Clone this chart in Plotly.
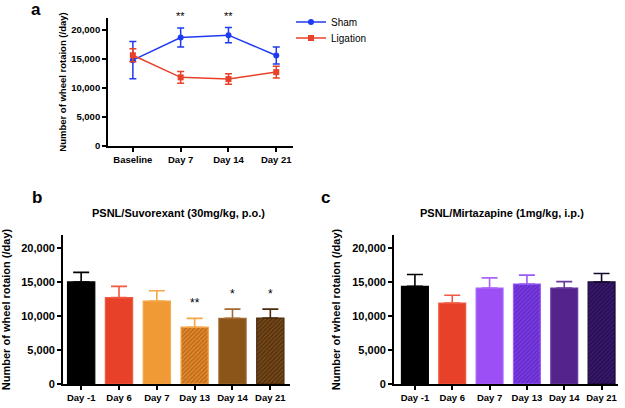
import plotly.graph_objects as go

FONT = "Liberation Sans, Arial, sans-serif"

# ---------------- Data ----------------
# Panel a
a_categories = ["Baseline", "Day 7", "Day 14", "Day 21"]
sham_mean = [14750, 18650, 19050, 15550]
sham_err = [3200, 1650, 1300, 1450]
ligation_mean = [15600, 11800, 11500, 12700]
ligation_err = [1100, 1000, 900, 1000]
a_sig_categories = ["Day 7", "Day 14"]
a_sig_labels = ["**", "**"]

# Panel b
b_title = "PSNL/Suvorexant (30mg/kg, p.o.)"
b_categories = ["Day -1", "Day 6", "Day 7", "Day 13", "Day 14", "Day 21"]
b_mean = [15000, 12700, 12200, 8350, 9650, 9700]
b_err = [1400, 1650, 1500, 1300, 1350, 1300]
b_sig = ["", "", "", "**", "*", "*"]

# Panel c
c_title = "PSNL/Mirtazapine (1mg/kg, i.p.)"
c_categories = ["Day -1", "Day 6", "Day 7", "Day 13", "Day 14", "Day 21"]
c_mean = [14350, 11900, 14100, 14700, 14100, 15000]
c_err = [1750, 1150, 1500, 1300, 950, 1250]

y_ticks = [0, 5000, 10000, 15000, 20000]
y_ticklabels = ["0", "5,000", "10,000", "15,000", "20,000"]
y_title = "Number of wheel rotaion (/day)"

# ---------------- Styles ----------------
b_styles = [
    dict(fill="#000000", line="#000000", pat=None),
    dict(fill="#E8412A", line="#F05A40", pat=None),
    dict(fill="#F09A36", line="#F5A84A", pat=None),
    dict(fill="#E88A2A", line="#F6A445", pat="#8A4A12"),
    dict(fill="#8B5519", line="#A06A30", pat=None),
    dict(fill="#7A4A18", line="#4A2C0C", pat="#2A1806"),
]
c_styles = [
    dict(fill="#000000", line="#000000", pat=None),
    dict(fill="#E8412A", line="#F05A40", pat=None),
    dict(fill="#9B4FF5", line="#A865F7", pat=None),
    dict(fill="#7B3CE8", line="#9A5CF8", pat="#4A1AA0"),
    dict(fill="#54238C", line="#6A3AA0", pat=None),
    dict(fill="#3A1870", line="#150830", pat="#10052A"),
]

fig = go.Figure()

W, H = 625, 408
def px_x(p):
    return p / W
def px_y(p):
    return 1 - p / H

BLUE = "#1F3BF2"
RED = "#E8412A"

# ---------------- Panel a ----------------
fig.add_trace(go.Scatter(
    x=list(range(len(a_categories))), y=sham_mean, name="Sham",
    mode="lines+markers",
    line=dict(color=BLUE, width=1.5),
    marker=dict(symbol="circle", size=6, color=BLUE),
    error_y=dict(type="data", array=sham_err, color=BLUE, thickness=1.5, width=3.5),
    xaxis="x", yaxis="y", showlegend=True, legend="legend",
))
fig.add_trace(go.Scatter(
    x=list(range(len(a_categories))), y=ligation_mean, name="Ligation",
    mode="lines+markers",
    line=dict(color=RED, width=1.5),
    marker=dict(symbol="square", size=6, color=RED),
    error_y=dict(type="data", array=ligation_err, color=RED, thickness=1.5, width=3.5),
    xaxis="x", yaxis="y", showlegend=True, legend="legend2",
))

annotations = []
for cat, lab in zip(a_sig_categories, a_sig_labels):
    annotations.append(dict(
        x=a_categories.index(cat), y=px_y(16), xref="x", yref="paper", text=lab,
        showarrow=False, font=dict(family=FONT, size=11, color="black"),
        xanchor="center", yanchor="middle",
    ))

# ---------------- Panel b & c bars ----------------
def add_bars(cats, means, errs, styles, xa, ya):
    for i, (cat, m, e, st) in enumerate(zip(cats, means, errs, styles)):
        marker = dict(color=st["fill"], line=dict(color=st["line"], width=1.2))
        if st["pat"]:
            marker["pattern"] = dict(shape="/", fgcolor=st["pat"], bgcolor=st["fill"],
                                     size=3, solidity=0.5, fillmode="overlay")
        fig.add_trace(go.Bar(
            x=[i], y=[m], width=0.72, marker=marker,
            error_y=dict(type="data", symmetric=False, array=[e], arrayminus=[0],
                         color=st["line"] if i != 0 else "#000000",
                         thickness=1.6, width=8),
            xaxis=xa, yaxis=ya, showlegend=False,
        ))

add_bars(b_categories, b_mean, b_err, b_styles, "x2", "y2")
add_bars(c_categories, c_mean, c_err, c_styles, "x3", "y3")

for i, lab in enumerate(b_sig):
    if lab:
        annotations.append(dict(
            x=i, y=b_mean[i] + b_err[i], xref="x2", yref="y2", text=lab,
            showarrow=False, font=dict(family=FONT, size=12, color="black"),
            xanchor="center", yanchor="bottom", yshift=6,
        ))

# panel letters and titles
annotations += [
    dict(x=px_x(36), y=px_y(9), xref="paper", yref="paper", text="<b>a</b>",
         showarrow=False, font=dict(family=FONT, size=17, color="black"),
         xanchor="center", yanchor="middle"),
    dict(x=px_x(37), y=px_y(197), xref="paper", yref="paper", text="<b>b</b>",
         showarrow=False, font=dict(family=FONT, size=17, color="black"),
         xanchor="center", yanchor="middle"),
    dict(x=px_x(326), y=px_y(197), xref="paper", yref="paper", text="<b>c</b>",
         showarrow=False, font=dict(family=FONT, size=17, color="black"),
         xanchor="center", yanchor="middle"),
    dict(x=px_x(178), y=px_y(213), xref="paper", yref="paper", text="<b>" + b_title + "</b>",
         showarrow=False, font=dict(family=FONT, size=11, color="black"),
         xanchor="center", yanchor="middle"),
    dict(x=px_x(502), y=px_y(213), xref="paper", yref="paper", text="<b>" + c_title + "</b>",
         showarrow=False, font=dict(family=FONT, size=11, color="black"),
         xanchor="center", yanchor="middle"),
]

def xaxis(domain, rng, cats, size, anchor):
    return dict(domain=domain, range=rng, anchor=anchor,
                tickmode="array", tickvals=list(range(len(cats))),
                ticktext=["<b>%s</b>" % c for c in cats], tickangle=0,
                showline=True, linecolor="black", linewidth=1.8,
                ticks="outside", ticklen=4, tickwidth=1.5, tickcolor="black",
                showgrid=False, zeroline=False,
                tickfont=dict(family=FONT, size=size, color="black"))

def yaxis(domain, rng, size, anchor, tsize, standoff):
    return dict(domain=domain, range=rng, anchor=anchor,
                tickmode="array", tickvals=y_ticks,
                ticktext=["<b>%s</b>" % t for t in y_ticklabels],
                showline=True, linecolor="black", linewidth=1.8,
                ticks="outside", ticklen=4, tickwidth=1.5, tickcolor="black",
                showgrid=False, zeroline=False,
                tickfont=dict(family=FONT, size=size, color="black"),
                title=dict(text="<b>" + y_title + "</b>",
                           font=dict(family=FONT, size=tsize, color="black"),
                           standoff=standoff))

legend_common = dict(xanchor="left", yanchor="middle",
                     font=dict(family=FONT, size=10, color="black"),
                     bgcolor="rgba(0,0,0,0)", itemwidth=30)

fig.update_layout(
    width=W, height=H,
    margin=dict(l=0, r=0, t=0, b=0, autoexpand=False),
    paper_bgcolor="white", plot_bgcolor="white",
    barmode="overlay",
    xaxis=xaxis([px_x(108), px_x(293)], [-0.52, 3.35], a_categories, 9.5, "y"),
    yaxis=yaxis([px_y(146), px_y(18)], [0, 22000], 9.5, "x", 9.5, 3),
    xaxis2=xaxis([px_x(63), px_x(290)], [-0.48, 5.52], b_categories, 9.5, "y2"),
    yaxis2=yaxis([px_y(384), px_y(235)], [0, 21900], 11, "x2", 11, 14),
    xaxis3=xaxis([px_x(394), px_x(618)], [-0.56, 5.44], c_categories, 9.5, "y3"),
    yaxis3=yaxis([px_y(384), px_y(235)], [0, 21900], 11, "x3", 11, 9),
    legend=dict(x=px_x(291), y=px_y(22), **legend_common),
    legend2=dict(x=px_x(291), y=px_y(38), **legend_common),
    annotations=annotations,
    font=dict(family=FONT),
)

fig.write_html(
    "out.html",
    config={"displayModeBar": False},
    post_script="document.body.style.margin='0';document.body.style.padding='0';"
                "document.body.style.overflow='hidden';",
)
